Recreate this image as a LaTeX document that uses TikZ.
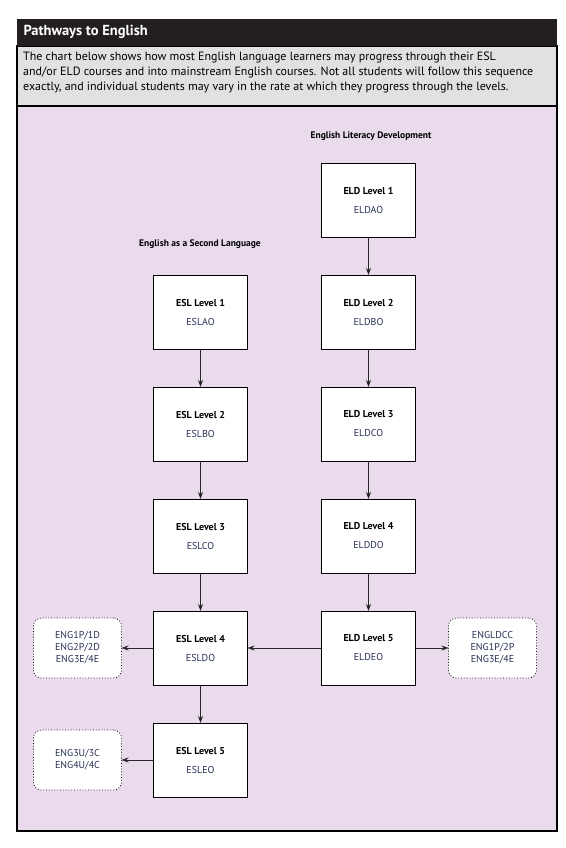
\documentclass[tikz,border=0pt]{standalone}
\usepackage{fontspec}
\setmainfont{PT Sans}
\usetikzlibrary{positioning,arrows.meta}
\definecolor{lilac}{RGB}{233,219,236}
\definecolor{panelgray}{RGB}{224,225,226}
\definecolor{headblack}{RGB}{35,31,32}
\definecolor{codeblue}{RGB}{40,50,85}
\tikzset{
x=1pt, y=-1pt,
>={Stealth[length=7pt,width=5pt]},
node distance=38pt,
level/.style={draw, line width=0.9pt, fill=white, minimum width=94pt, minimum height=74pt,
    inner sep=0pt, outer sep=0pt, align=center, font=\fontsize{10}{19}\selectfont},
exit/.style={draw, dotted, line width=0.8pt, fill=white, rounded corners=8pt,
    minimum width=88pt, minimum height=60pt, inner sep=0pt, outer sep=0pt,
    align=center, text=codeblue, font=\fontsize{10}{12}\selectfont},
flow/.style={->, draw=black!85, line width=0.8pt},
heading/.style={font=\bfseries\fontsize{9.5}{11}\selectfont},
}
\newcommand{\lvl}[2]{\textbf{#1}\\\textcolor{codeblue}{#2}}

\begin{document}
\begin{tikzpicture}
    \useasboundingbox (0,0) rectangle (565,848);

    % frame
    \fill[lilac] (17,106) rectangle (557,831);
    \draw[line width=1.2pt] (17,106) -- (17,831) -- (557,831) -- (557,106);
    \filldraw[fill=panelgray, line width=1.2pt] (17,46) rectangle (557,106);
    \fill[headblack] (17,19) rectangle (557,46);

    \node [anchor=west, text=white, font=\bfseries\fontsize{14.5}{16}\selectfont] (title) at (20,32)
    {Pathways to English};

    \node [anchor=north west, align=left, inner sep=0pt, font=\fontsize{12}{15}\selectfont] (intro) at (23,52)
    {
        The chart below shows how most English language learners may progress through their ESL
        \\
        and/or ELD courses and into mainstream English courses.  Not all students will follow this sequence
        \\
        exactly, and individual students may vary in the rate at which they progress through the levels.
    };

    % ELD column
    \node [level] (eld1) at (368.5,200) {\lvl{ELD Level 1}{ELDAO}};
    \node [level, below=of eld1] (eld2) {\lvl{ELD Level 2}{ELDBO}};
    \node [level, below=of eld2] (eld3) {\lvl{ELD Level 3}{ELDCO}};
    \node [level, below=of eld3] (eld4) {\lvl{ELD Level 4}{ELDDO}};
    \node [level, below=of eld4] (eld5) {\lvl{ELD Level 5}{ELDEO}};

    % ESL column
    \node [level, left=74pt of eld2] (esl1) {\lvl{ESL Level 1}{ESLAO}};
    \node [level, below=of esl1] (esl2) {\lvl{ESL Level 2}{ESLBO}};
    \node [level, below=of esl2] (esl3) {\lvl{ESL Level 3}{ESLCO}};
    \node [level, below=of esl3] (esl4) {\lvl{ESL Level 4}{ESLDO}};
    \node [level, below=of esl4] (esl5) {\lvl{ESL Level 5}{ESLEO}};

    \node [heading] (eldhead) at (371,136) {English Literacy Development};
    \node [heading] (eslhead) at (200,244) {English as a Second Language};

    % mainstream courses
    \node [exit, left=32pt of esl4] (esl4out) {ENG1P/1D\\ENG2P/2D\\ENG3E/4E};
    \node [exit, right=33pt of eld5] (eld5out) {ENGLDCC\\ENG1P/2P\\ENG3E/4E};
    \node [exit, left=32pt of esl5] (esl5out) {ENG3U/3C\\ENG4U/4C};

    \foreach \from/\to in {eld1/eld2, eld2/eld3, eld3/eld4, eld4/eld5,
                           esl1/esl2, esl2/esl3, esl3/esl4, esl4/esl5}
        \draw[flow] (\from) -- (\to);
    \draw[flow] (eld5) -- (esl4);
    \draw[flow] (esl4) -- (esl4out);
    \draw[flow] (eld5) -- (eld5out);
    \draw[flow] (esl5) -- (esl5out);

\end{tikzpicture}
\end{document}
